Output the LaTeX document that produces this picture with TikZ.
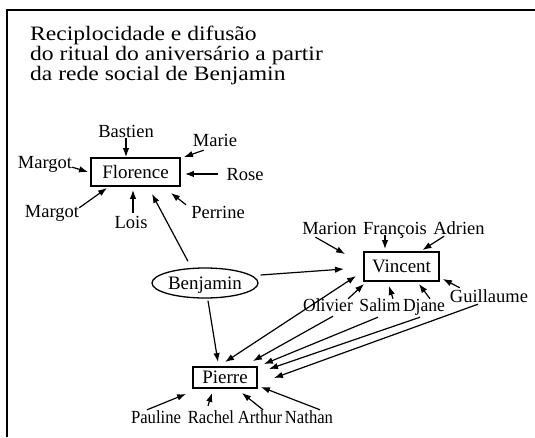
\documentclass[tikz,border=0pt]{standalone}
\usepackage{fontspec}
\setmainfont{Liberation Serif}
\newfontfamily\wideserif[FakeStretch=1.15]{Liberation Serif}
\newfontfamily\slimserif[FakeStretch=0.9]{Liberation Serif}
\newfontfamily\midserif[FakeStretch=0.95]{Liberation Serif}
\usetikzlibrary{arrows.meta,calc,shapes.geometric}
\begin{document}
\begin{tikzpicture}[x=1pt,y=-1pt,
  lbl/.style={inner sep=0pt,text height=12pt,text depth=0pt,font=\fontsize{18.5}{20}\selectfont,anchor=base},
  slim/.style={lbl,font=\slimserif\fontsize{18.5}{20}\selectfont},
  mid/.style={lbl,font=\midserif\fontsize{18.5}{20}\selectfont},
  ttl/.style={inner sep=0pt,font=\wideserif\fontsize{20.5}{21}\selectfont,anchor=base west},
  box/.style={draw,line width=1.9pt,inner sep=0pt,text height=12pt,text depth=0pt,font=\fontsize{19}{20}\selectfont},
  arr/.style={-{Latex[length=9pt,width=6.5pt]},line width=1.2pt},
  darr/.style={{Latex[length=9pt,width=6.5pt]}-{Latex[length=9pt,width=6.5pt]},line width=1.2pt},
]
\useasboundingbox (0,0) rectangle (535,437);
\draw[line width=2pt] (535,10) -- (7,10) -- (7,437);

% title
\node[ttl] (t1) at (30,40) {Reciplocidade e difusão};
\node[ttl] (t2) at (30,60) {do ritual do aniversário a partir};
\node[ttl] (t3) at (30,80) {da rede social de Benjamin};

% main nodes
\node[box,minimum width=89pt,minimum height=28pt] (florence) at (135.5,172) {Florence};
\node[box,minimum width=75pt,minimum height=29pt] (vincent) at (401.5,266.5) {Vincent};
\node[box,minimum width=64pt,minimum height=21pt] (pierre) at (225,377.5) {Pierre};
\node[ellipse,draw,line width=1.3pt,inner sep=0pt,minimum width=106pt,minimum height=30pt,
      text height=12pt,text depth=0pt,font=\fontsize{19}{20}\selectfont] (benjamin) at (205,283) {Benjamin};

% labels around Florence
\node[lbl] (bastien) at (126,137) {Bastien};
\node[lbl] (marie) at (215,146) {Marie};
\node[lbl] (margotA) at (45,168) {Margot};
\node[lbl] (rose) at (245,180) {Rose};
\node[lbl] (margotB) at (52,217) {Margot};
\node[lbl] (lois) at (131,228) {Lois};
\node[lbl] (perrine) at (218,218) {Perrine};

% labels around Vincent
\node[lbl] (marion) at (329.5,234) {Marion};
\node[lbl] (francois) at (395,234) {François};
\node[lbl] (adrien) at (459,234) {Adrien};
\node[mid] (olivier) at (328,311) {Olivier};
\node[mid] (salim) at (380,311) {Salim};
\node[mid] (djane) at (424,311) {Djane};
\node[lbl] (guillaume) at (489,302) {Guillaume};

% labels around Pierre
\node[slim] (pauline) at (156,423) {Pauline};
\node[slim] (rachel) at (211,423) {Rachel};
\node[slim] (arthur) at (260,423) {Arthur};
\node[slim] (nathan) at (309,423) {Nathan};

% arrows to Florence
\draw[arr,shorten <=1pt] (bastien.south) -- (bastien.south |- florence.north);
\draw[arr] ($(marie.south west)+(11,4)$) -- ($(florence.north east)+(3,0)$);
\draw[arr] ($(margotA.south east)+(0,-1)$) -- ($(florence.west)+(-2,0)$);
\draw[arr,shorten <=8pt,shorten >=4pt] (rose.west) -- (rose.west -| florence.east);
\draw[arr] ($(margotB.north east)+(0,3)$) -- ($(florence.south west)+(17,1)$);
\coordinate (lo) at ($(lois.north)+(2,-3)$);
\draw[arr,shorten >=3pt] (lo) -- (lo |- florence.south);
\draw[arr] ($(perrine.north west)+(-5,-1)$) -- ($(florence.south east)+(-10,6)$);
\draw[arr] ($(benjamin.north)+(-17,-6)$) -- ($(florence.south)+(16.5,7)$);

% arrows to Vincent
\draw[arr] ($(marion.south)+(-14,3)$) -- ($(vincent.north west)+(-18,3)$);
\coordinate (fr) at ($(francois.south)+(-10,1)$);
\draw[arr,shorten >=2pt] (fr) -- (fr |- vincent.north);
\draw[arr] ($(adrien.south west)+(11,2)$) -- ($(vincent.north east)+(-17.5,-1)$);
\draw[arr] ($(benjamin.east)+(2,-8)$) -- ($(vincent.west)+(-19,2.5)$);
\draw[arr] ($(guillaume.north west)+(10,-2)$) -- ($(vincent.south east)+(3,-3)$);
\draw[arr] ($(olivier.north east)+(-5,0)$) -- ($(vincent.south west)+(1,2)$);
\draw[arr] ($(salim.north)+(13,0)$) -- ($(vincent.south)+(-12.5,4)$);
\draw[arr] ($(djane.north)+(6,0)$) -- ($(vincent.south)+(17.5,2)$);
\draw[darr] ($(pierre.north)+(0,-4)$) -- ($(vincent.west)+(-7,9.5)$);

% arrows to Pierre
\draw[arr] ($(benjamin.south)+(3,2)$) -- ($(pierre.north)+(-7,-4)$);
\draw[arr] ($(olivier.south)+(5,5)$) -- ($(pierre.north east)+(-5,-5)$);
\draw[arr] ($(salim.south)+(-2,6)$) -- ($(pierre.north east)+(6,-2)$);
\draw[arr] ($(djane.south)+(-4,6)$) -- ($(pierre.east)+(11,-8.5)$);
\draw[arr] ($(guillaume.south)+(-11,2)$) -- ($(pierre.east)+(16,0.5)$);
\draw[arr] ($(pauline.north)+(-9,-1)$) -- ($(pierre.south west)+(-6,5)$);
\draw[arr] ($(rachel.north)+(-3,-5)$) -- ($(pierre.south)+(-13,4)$);
\draw[arr] ($(arthur.north)+(3,-1)$) -- ($(pierre.south)+(17,4)$);
\draw[arr] ($(nathan.north)+(11,-1)$) -- ($(pierre.east)+(3,9.5)$);
\end{tikzpicture}
\end{document}
